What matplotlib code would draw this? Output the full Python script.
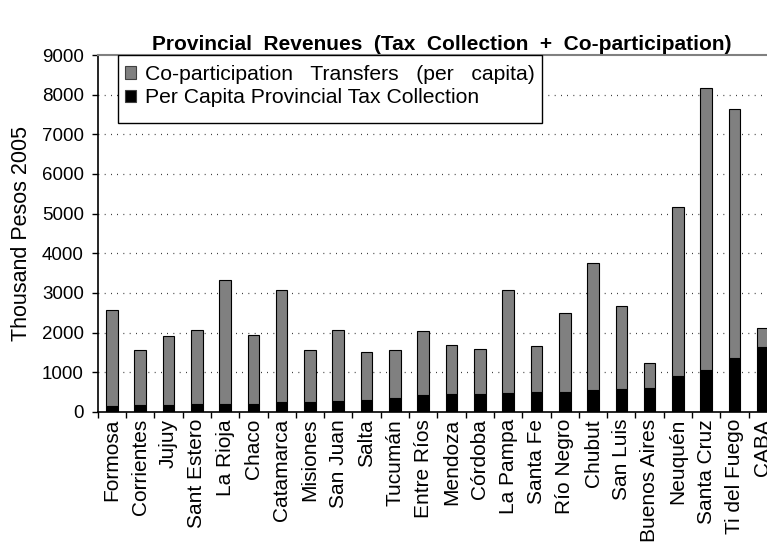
import matplotlib
matplotlib.use("Agg")
import matplotlib.pyplot as plt
import numpy as np
from matplotlib.patches import Rectangle

plt.rcParams['font.family'] = ['Liberation Sans', 'DejaVu Sans']

provinces = ["Formosa", "Corrientes", "Jujuy", "Sant Estero", "La Rioja", "Chaco",
             "Catamarca", "Misiones", "San Juan", "Salta", "Tucumán", "Entre Ríos",
             "Mendoza", "Córdoba", "La Pampa", "Santa Fe", "Río Negro", "Chubut",
             "San Luis", "Buenos Aires", "Neuquén", "Santa Cruz", "Ti del Fuego", "CABA"]

# per capita provincial tax collection (thousand pesos 2005)
tax_collection = [140, 175, 175, 195, 200, 200, 250, 260, 275, 300, 360, 425,
                  460, 460, 485, 510, 510, 560, 585, 605, 915, 1065, 1355, 1640]

# co-participation transfers per capita, stacked on top
coparticipation = [2440, 1400, 1750, 1865, 3120, 1750, 2815, 1315, 1785, 1215, 1205, 1620,
                   1240, 1130, 2580, 1155, 1980, 3195, 2085, 625, 4245, 7110, 6290, 480]

yticks = [0, 1000, 2000, 3000, 4000, 5000, 6000, 7000, 8000, 9000]

W, H = 767, 548
fig = plt.figure(figsize=(W / 100, H / 100), dpi=100)
left, right, top, bottom = 97.7, 777.0, 55.0, 412.0
ax = fig.add_axes([left / W, 1 - bottom / H, (right - left) / W, (bottom - top) / H])

x = np.arange(len(provinces))
bw = 0.41
ax.bar(x, tax_collection, width=bw, color="black", edgecolor="black", linewidth=0.8,
       zorder=3, label="Per Capita Provincial Tax Collection")
ax.bar(x, coparticipation, width=bw, bottom=tax_collection, color="#808080",
       edgecolor="black", linewidth=0.8, zorder=3,
       label="Co-participation   Transfers   (per   capita)")

ax.set_xlim(-0.5, len(provinces) - 0.5)
ax.set_ylim(0, 9000)
ax.set_yticks(yticks)
ax.set_yticklabels([str(v) for v in yticks], fontsize=13.5)

# gridlines, dotted
for v in yticks[1:-1]:
    ax.axhline(v, color="black", linewidth=0.9, linestyle=(0, (0.6, 4.4)), zorder=1)

# category labels centered, tick marks at boundaries
ax.set_xticks(x)
ax.set_xticklabels(provinces, rotation=90, fontsize=15)
ax.tick_params(axis="x", length=0, pad=5)
ax.set_xticks(np.arange(len(provinces) + 1) - 0.5, minor=True)
ax.tick_params(axis="x", which="minor", length=4, width=1, direction="out", color="black")
ax.tick_params(axis="y", length=4, width=1, direction="out", pad=6)

ax.spines["right"].set_visible(False)
ax.spines["top"].set_color("#808080")
ax.spines["top"].set_linewidth(1.5)
ax.spines["left"].set_linewidth(1.2)
ax.spines["bottom"].set_linewidth(1.2)

ax.set_ylabel("Thousand Pesos 2005", fontsize=15.5, labelpad=7)

fig.text(442 / W, 1 - 44 / H, "Provincial  Revenues  (Tax  Collection  +  Co-participation)",
         ha="center", va="center", fontsize=15, fontweight="bold")

# legend with its own frame
handles, labels = ax.get_legend_handles_labels()
leg = ax.legend(handles[::-1], labels[::-1], loc="upper left",
                bbox_to_anchor=((125 - left) / (right - left), 1 - 10 / (bottom - top)),
                frameon=False, fontsize=15.2, handlelength=0.5, handleheight=0.5,
                handletextpad=0.45, labelspacing=0.2, borderaxespad=0, borderpad=0.0)
for h in leg.legend_handles:
    h.set_edgecolor("#404040")
frame = Rectangle(((118 - left) / (right - left), (bottom - 123) / (bottom - top)),
                  424 / (right - left), 68 / (bottom - top), transform=ax.transAxes,
                  facecolor="white", edgecolor="black", linewidth=1.0, zorder=4)
ax.add_patch(frame)
leg.set_zorder(5)

fig.savefig("out.png", dpi=100)
